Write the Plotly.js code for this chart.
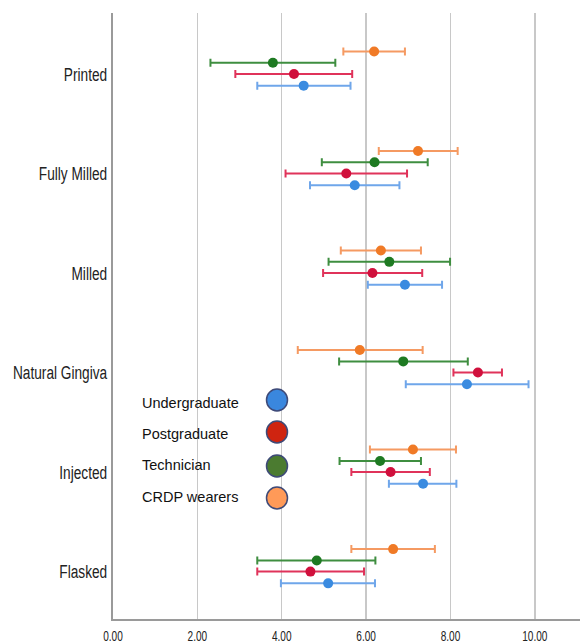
<!DOCTYPE html>
<html>
<head>
<meta charset="utf-8">
<script src="https://cdn.plot.ly/plotly-3.0.1.min.js"></script>
<style>
html,body{margin:0;padding:0;background:#fff;}
#chart{width:580px;height:644px;}
</style>
</head>
<body>
<div id="chart"></div>
<script>
// ---- data ----
const categories = ["Printed", "Fully Milled", "Milled", "Natural Gingiva", "Injected", "Flasked"];
const seriesNames = ["CRDP wearers", "Technician", "Postgraduate", "Undergraduate"];

const crdpMean = [6.19, 7.23, 6.35, 5.85, 7.11, 6.64];
const crdpLow  = [5.46, 6.30, 5.40, 4.38, 6.09, 5.65];
const crdpHigh = [6.92, 8.17, 7.30, 7.34, 8.13, 7.63];

const techMean = [3.79, 6.20, 6.55, 6.88, 6.33, 4.83];
const techLow  = [2.31, 4.95, 5.11, 5.36, 5.37, 3.42];
const techHigh = [5.27, 7.46, 7.99, 8.41, 7.30, 6.22];

const postMean = [4.29, 5.53, 6.15, 8.65, 6.58, 4.68];
const postLow  = [2.90, 4.09, 4.98, 8.07, 5.65, 3.42];
const postHigh = [5.67, 6.97, 7.33, 9.22, 7.51, 5.95];

const underMean = [4.52, 5.73, 6.92, 8.39, 7.35, 5.10];
const underLow  = [3.42, 4.67, 6.04, 6.94, 6.54, 3.98];
const underHigh = [5.63, 6.79, 7.80, 9.85, 8.14, 6.21];

const xTicks = [0, 2, 4, 6, 8, 10];
const legendOrder = ["Undergraduate", "Postgraduate", "Technician", "CRDP wearers"];

// ---- styles ----
const styles = {
  "CRDP wearers":  {marker: "#F07A26", line: "#F59A62", offset: -0.226, legend: "#FF9A58"},
  "Technician":    {marker: "#1E7A22", line: "#3F8E40", offset: -0.112, legend: "#4B7B30"},
  "Postgraduate":  {marker: "#D0103C", line: "#E0335A", offset: 0.0,    legend: "#CF2410"},
  "Undergraduate": {marker: "#3A8BE0", line: "#6FA6EA", offset: 0.118,  legend: "#3A87DE"}
};
const dataBySeries = {
  "CRDP wearers":  [crdpMean, crdpLow, crdpHigh],
  "Technician":    [techMean, techLow, techHigh],
  "Postgraduate":  [postMean, postLow, postHigh],
  "Undergraduate": [underMean, underLow, underHigh]
};

const traces = seriesNames.map(name => {
  const [m, lo, hi] = dataBySeries[name];
  const st = styles[name];
  return {
    type: "scatter",
    mode: "markers",
    name: name,
    x: m,
    y: categories.map((c, i) => i + st.offset),
    marker: {color: st.marker, size: 10},
    error_x: {
      type: "data", symmetric: false,
      array: hi.map((h, i) => h - m[i]),
      arrayminus: lo.map((l, i) => m[i] - l),
      color: st.line, thickness: 2, width: 4
    },
    showlegend: false,
    hoverinfo: "x+y"
  };
});

// plot box in pixels (for legend placement)
const L = 113, R = 580, T = 13, B = 619;
const px = x => (x - L) / (R - L);
const py = y => (B - y) / (B - T);

const legendTextY = [403, 434, 465, 497];
const legendCircY = [400, 432, 466, 498];

const annotations = legendOrder.map((n, i) => ({
  xref: "paper", yref: "paper", x: px(140), y: py(legendTextY[i]),
  xanchor: "left", yanchor: "middle", showarrow: false, text: n,
  font: {family: "Liberation Sans, Arial, sans-serif", size: 14.5, color: "#111"}
}));

const shapes = legendOrder.map((n, i) => ({
  type: "circle", xref: "paper", yref: "paper",
  xsizemode: "pixel", ysizemode: "pixel",
  xanchor: px(277), yanchor: py(legendCircY[i]),
  x0: -10.5, x1: 10.5, y0: -11, y1: 11,
  fillcolor: styles[n].legend,
  line: {color: "#3E4A78", width: 1.5}
}));

const layout = {
  width: 580, height: 644,
  margin: {l: L, r: 580 - R, t: T, b: 644 - B},
  paper_bgcolor: "#fff", plot_bgcolor: "#fff",
  showlegend: false,
  xaxis: {
    range: [0, 11.07],
    tickvals: xTicks,
    ticktext: xTicks.map(v => v.toFixed(2)),
    showgrid: true, gridcolor: "#c8c8c8", gridwidth: 1.5,
    zeroline: false,
    showline: true, linecolor: "#9a9a9a", linewidth: 2,
    ticks: "", ticklabelstandoff: 3,
    tickfont: {family: "Liberation Sans, Arial, sans-serif", size: 14, color: "#222"}
  },
  yaxis: {
    range: [5.476, -0.612],
    tickvals: categories.map((c, i) => i),
    ticktext: categories,
    showgrid: false, zeroline: false,
    showline: true, linecolor: "#9a9a9a", linewidth: 2,
    ticks: "", ticklabelstandoff: 0,
    tickfont: {family: "Liberation Sans, Arial, sans-serif", size: 19, color: "#222"}
  },
  annotations: annotations,
  shapes: shapes
};

// horizontally condense axis tick labels (reference uses a narrow face)
function condense(selector, s) {
  document.querySelectorAll(selector).forEach(t => {
    const X = parseFloat(t.getAttribute("x")) || 0;
    const base = t.getAttribute("data-base-transform") ?? (t.getAttribute("transform") || "");
    t.setAttribute("data-base-transform", base);
    t.setAttribute("transform", base + ` translate(${X},0) scale(${s},1) translate(${-X},0)`);
  });
}

Plotly.newPlot("chart", traces, layout, {displayModeBar: false, staticPlot: true}).then(() => {
  condense("#chart .ytick text", 0.72);
  condense("#chart .xtick text", 0.72);
});
</script>
</body>
</html>
